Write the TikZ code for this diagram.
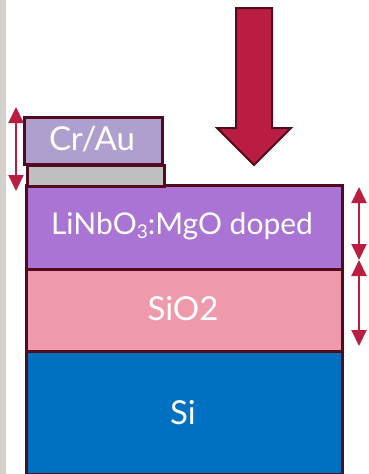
\documentclass[tikz,border=0pt]{standalone}
\usepackage{fontspec}
\setmainfont{Lato}
\usetikzlibrary{arrows.meta}
\definecolor{edge}{HTML}{520A1E}
\definecolor{arrowred}{HTML}{B91E42}
\definecolor{crau}{HTML}{AE9FCF}
\definecolor{greyl}{HTML}{BFBFBF}
\definecolor{lnb}{HTML}{A974D4}
\definecolor{sio}{HTML}{EE9AAB}
\definecolor{si}{HTML}{0070C0}
\definecolor{strip}{HTML}{D3D0CB}
\tikzset{
  layer/.style={draw=edge, line width=2.6pt, rectangle, inner sep=0pt, anchor=north west},
  label/.style={text=white, font=\fontsize{33}{33}\selectfont},
  dimarrow/.style={arrowred, line width=2pt, {Triangle[width=15pt,length=16pt]}-{Triangle[width=15pt,length=16pt]}}
}
\begin{document}
\begin{tikzpicture}[x=1pt,y=-1pt]
\fill[white] (0,0) rectangle (369,474);
\useasboundingbox (0,0) rectangle (369,474);
\fill[strip] (0,0) rectangle (6,474);
% layers
\node[layer, fill=si, minimum width=316pt, minimum height=123pt] (si) at (25,350) {};
\node[label] (sit) at (183,413) {Si};
\node[layer, fill=sio, minimum width=316pt, minimum height=82pt] (sio) at (25,268) {};
\node[label] (siot) at (183,309) {SiO2};
\node[layer, fill=lnb, minimum width=316pt, minimum height=84pt] (lnb) at (25,184) {};
\node[text=white, font=\fontsize{30}{30}\selectfont] (lnbt) at (182,226) {LiNbO\raisebox{-0.3ex}{\fontsize{19}{19}\selectfont 3}:MgO doped};
\node[layer, fill=greyl, minimum width=137pt, minimum height=21pt] (grey) at (26,164) {};
\node[layer, fill=crau, minimum width=138pt, minimum height=47pt] (cr) at (23,116) {};
\node[label] (crt) at (92,139) {Cr/Au};
% big arrow
\draw[edge, fill=arrowred, line width=2pt, line join=miter]
  (236,8) -- (272,8) -- (272,128) -- (291,128) -- (254,165) -- (217,128) -- (236,128) -- cycle;
% dimension arrows
\coordinate (la) at (16,107);
\coordinate (lb) at (16,191);
\coordinate (ra) at (359,187);
\coordinate (rm) at (359,260);
\coordinate (rb) at (359,346);
\draw[dimarrow] (la) -- (lb);
\draw[dimarrow] (ra) -- (rm);
\draw[dimarrow] (rm) -- (rb);
\end{tikzpicture}
\end{document}
